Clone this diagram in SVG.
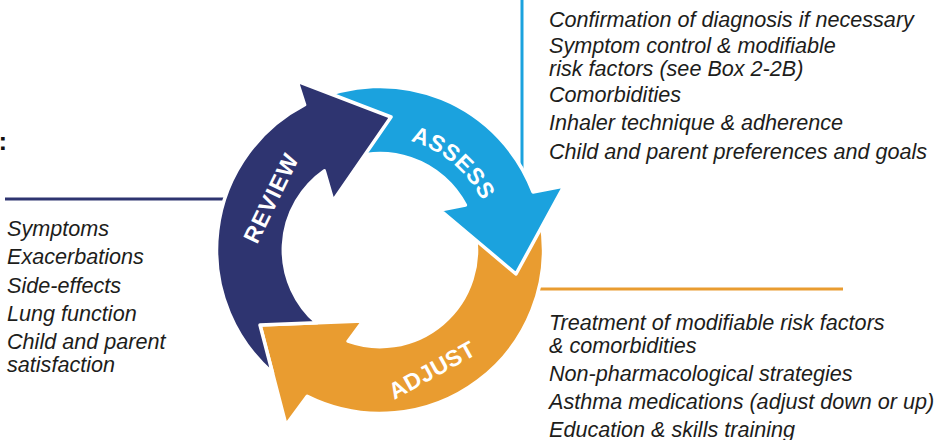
<svg xmlns="http://www.w3.org/2000/svg" width="935" height="440" viewBox="0 0 935 440">
<style>
.arrow{stroke:#ffffff;stroke-width:3.5;stroke-linejoin:round}
.navy{fill:#2E3470}
.blue{fill:#1BA2DE}
.orange{fill:#E99C30}
.lbl{font-family:"Liberation Sans",Arial,sans-serif;font-weight:bold;font-size:23px;fill:#ffffff}
.item{font-family:"Liberation Sans",Arial,sans-serif;font-style:italic;font-size:21.6px;fill:#1d1d1b}
.conn{fill:none;stroke-width:3}
</style>
<defs>
<path id="assessArc" d="M 370.15 137.4 A 113 113 0 0 1 492.57 240.15"/>
</defs>
<rect width="935" height="440" fill="#ffffff"/>
<g id="connectors">
<line class="conn" x1="5" y1="199" x2="232" y2="199" stroke="#2E3470"/>
<line class="conn" x1="522" y1="0" x2="522" y2="185" stroke="#1BA2DE"/>
<line class="conn" x1="530" y1="289" x2="843" y2="289" stroke="#E99C30"/>
</g>
<text x="-1.5" y="150" font-family="Liberation Sans, Arial, sans-serif" font-weight="bold" font-size="26" fill="#111111">:</text>
<g id="adjust">
<path class="arrow orange" d="M 541 221.6 A 163.5 163.5 0 0 1 307.2 396.4 L 286 425 L 260 325 L 363 321 L 348.1 341.2 A 96.5 96.5 0 0 0 475 233.2 Z"/>
<text class="lbl" transform="translate(432,370) rotate(-29)" text-anchor="middle" dominant-baseline="central" letter-spacing="0.5">ADJUST</text>
</g>
<g id="assess">
<path class="arrow blue" d="M 310.9 101.8 A 163.5 163.5 0 0 1 533 192 L 564 186 L 516 274 L 440 210 L 465.4 205.1 A 96.5 96.5 0 0 0 339.2 162.5 Z"/>
<text class="lbl" letter-spacing="0.5"><textPath href="#assessArc" startOffset="50%" text-anchor="middle">ASSESS</textPath></text>
</g>
<g id="review">
<path class="arrow navy" d="M 272.5 373 A 163.5 163.5 0 0 1 304.6 104.8 L 297 81 L 391 117 L 333 201 L 324.3 170.9 A 96.5 96.5 0 0 0 316.7 322.8 L 260 325 Z"/>
<text class="lbl" transform="translate(271,198) rotate(-64)" text-anchor="middle" dominant-baseline="central" letter-spacing="1">REVIEW</text>
</g>
<g id="review-items">
<text class="item" x="7" y="236">Symptoms</text>
<text class="item" x="7" y="264.3">Exacerbations</text>
<text class="item" x="7" y="292.7">Side-effects</text>
<text class="item" x="7" y="321">Lung function</text>
<text class="item" x="7" y="349">Child and parent</text>
<text class="item" x="7" y="372">satisfaction</text>
</g>
<g id="assess-items">
<text class="item" x="549" y="26.5">Confirmation of diagnosis if necessary</text>
<text class="item" x="549" y="53">Symptom control &amp; modifiable</text>
<text class="item" x="549" y="76">risk factors (see Box 2-2B)</text>
<text class="item" x="549" y="102">Comorbidities</text>
<text class="item" x="549" y="130">Inhaler technique &amp; adherence</text>
<text class="item" x="549" y="158.5">Child and parent preferences and goals</text>
</g>
<g id="adjust-items">
<text class="item" x="549" y="330">Treatment of modifiable risk factors</text>
<text class="item" x="549" y="353">&amp; comorbidities</text>
<text class="item" x="549" y="380.5">Non-pharmacological strategies</text>
<text class="item" x="549" y="408.5">Asthma medications (adjust down or up)</text>
<text class="item" x="549" y="436.7">Education &amp; skills training</text>
</g>
</svg>
